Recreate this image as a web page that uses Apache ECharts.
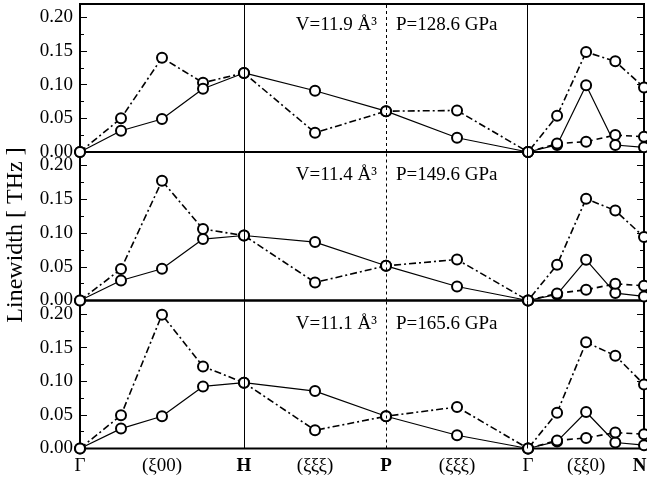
<!DOCTYPE html>
<html>
<head>
<meta charset="utf-8">
<script src="https://cdn.jsdelivr.net/npm/echarts@6/dist/echarts.min.js"></script>
<style>
  html, body { margin: 0; padding: 0; background: #fff; }
  #chart { width: 647px; height: 481px; }
</style>
</head>
<body>
<div id="chart"></div>
<script>
  // path coordinate: Γ-H = 1, H-P = P-Γ = √3/2, Γ-N = √2/2
  const pathX = [0, 0.25, 0.5, 0.75, 1, 1.433, 1.866, 2.299, 2.732, 2.909, 3.086, 3.264, 3.439]
  const gnX = [2.732, 2.909, 3.086, 3.264, 3.439]

  const xTickPos = [0, 0.5, 1, 1.433, 1.866, 2.299, 2.732, 3.086, 3.439]
  const xTickText = ['Γ', '(ξ00)', 'H', '(ξξξ)', 'P', '(ξξξ)', 'Γ', '(ξξ0)', 'N']
  const yTicks = [0, 0.05, 0.10, 0.15, 0.20]
  const yMinor = [0.025, 0.075, 0.125, 0.175]

  const volLabels = ['V=11.9 Å³', 'V=11.4 Å³', 'V=11.1 Å³']
  const presLabels = ['P=128.6 GPa', 'P=149.6 GPa', 'P=165.6 GPa']

  // V=11.9
  const dashDot1 = [0, 0.050, 0.140, 0.103, 0.1175, 0.0286, 0.0607, 0.0617, 0, 0.0538, 0.1486, 0.1348, 0.0958]
  const solid1 = [0, 0.0316, 0.049, 0.094, 0.1175, 0.091, 0.0607, 0.0212, 0, 0.0105, 0.0993, 0.0104, 0.007]
  const dashed1 = [0, 0.0125, 0.0153, 0.0252, 0.0227]
  // V=11.4
  const dashDot2 = [0, 0.0465, 0.1773, 0.1058, 0.0963, 0.0267, 0.0514, 0.0607, 0, 0.0529, 0.1507, 0.1333, 0.094]
  const solid2 = [0, 0.0296, 0.047, 0.091, 0.0963, 0.0865, 0.0514, 0.0207, 0, 0.009, 0.0603, 0.011, 0.006]
  const dashed2 = [0, 0.0105, 0.0159, 0.0247, 0.0218]
  // V=11.1
  const dashDot3 = [0, 0.0493, 0.199, 0.122, 0.0978, 0.0271, 0.0479, 0.0617, 0, 0.0533, 0.158, 0.138, 0.0953]
  const solid3 = [0, 0.0296, 0.0479, 0.0923, 0.0978, 0.0853, 0.0479, 0.0197, 0, 0.0105, 0.0542, 0.0089, 0.0049]
  const dashed3 = [0, 0.012, 0.0157, 0.0237, 0.0212]

  const panels = [
    [dashDot1, solid1, dashed1],
    [dashDot2, solid2, dashed2],
    [dashDot3, solid3, dashed3]
  ]

  const serif = '"Liberation Serif", "DejaVu Serif", serif'
  const gridTops = [4, 152, 300.5]
  const gridHeights = [148, 148.5, 148]
  const xMax = 3.439

  const zip = (xs, ys) => xs.map((x, i) => [x, ys[i]])

  const grids = []
  const xAxes = []
  const yAxes = []
  const series = []
  const graphics = []

  panels.forEach((p, g) => {
    grids.push({
      left: 80,
      right: 3,
      top: gridTops[g],
      height: gridHeights[g],
      outerBoundsMode: 'none',
      containLabel: false,
      show: true,
      borderColor: '#000',
      borderWidth: 2,
      backgroundColor: 'transparent'
    })

    const isBottom = g === panels.length - 1
    xAxes.push({
      type: 'value',
      gridIndex: g,
      min: 0,
      max: xMax,
      axisLine: { show: false },
      axisTick: { show: false },
      splitLine: { show: false },
      axisLabel: {
        show: isBottom,
        customValues: xTickPos,
        margin: 8,
        color: '#000',
        fontFamily: serif,
        fontSize: 19,
        formatter: function(v) {
          const i = xTickPos.findIndex(t => Math.abs(t - v) < 1e-6)
          const t = i >= 0 ? xTickText[i] : ''
          if (t === 'N') return '{n|' + t + '}'
          return (t === 'H' || t === 'P') ? '{b|' + t + '}' : t
        },
        rich: {
          b: { fontFamily: serif, fontSize: 19, fontWeight: 'bold', color: '#000' },
          n: { fontFamily: serif, fontSize: 19, fontWeight: 'bold', color: '#000', padding: [0, 9, 0, 0] }
        }
      }
    })

    // major / minor ticks on both sides
    const sides = [
      { position: 'left', values: yTicks, len: 7, label: true },
      { position: 'right', values: yTicks, len: 7, label: false },
      { position: 'left', values: yMinor, len: 4, label: false },
      { position: 'right', values: yMinor, len: 4, label: false }
    ]
    sides.forEach(s => {
      yAxes.push({
        type: 'value',
        gridIndex: g,
        position: s.position,
        offset: 0,
        min: 0,
        max: 0.22,
        axisLine: { show: false },
        splitLine: { show: false },
        axisTick: {
          show: true,
          inside: true,
          length: s.len,
          customValues: s.values,
          lineStyle: { color: '#000', width: 1 }
        },
        axisLabel: {
          show: s.label,
          customValues: s.values,
          margin: 7,
          color: '#000',
          fontFamily: serif,
          fontSize: 19,
          formatter: v => v.toFixed(2)
        }
      })
    })

    const yIdx = g * 4
    const common = {
      type: 'line',
      xAxisIndex: g,
      yAxisIndex: yIdx,
      symbol: 'emptyCircle',
      symbolSize: 10,
      clip: false,
      itemStyle: { color: '#000', borderWidth: 1.6 }
    }

    series.push(Object.assign({}, common, {
      name: 'dashdot' + g,
      data: zip(pathX, p[0]),
      lineStyle: { color: '#000', width: 1.6, type: [7, 3, 2, 3] },
      markLine: {
        silent: true,
        symbol: 'none',
        label: { show: false },
        lineStyle: { color: '#000', width: 1, type: 'solid' },
        data: [
          { xAxis: 1 },
          { xAxis: 1.866, lineStyle: { type: [3, 3] } },
          { xAxis: 2.732 }
        ]
      },
      z: 3
    }))
    series.push(Object.assign({}, common, {
      name: 'solid' + g,
      data: zip(pathX, p[1]),
      lineStyle: { color: '#000', width: 1.2, type: 'solid' },
      z: 3
    }))
    series.push(Object.assign({}, common, {
      name: 'dashed' + g,
      data: zip(gnX, p[2]),
      lineStyle: { color: '#000', width: 1.6, type: [6, 4] },
      z: 3
    }))

    const textY = gridTops[g] + [21, 23, 24][g]
    graphics.push({
      type: 'text',
      x: 377,
      y: textY,
      style: { text: volLabels[g], font: '19px ' + serif, fill: '#000', align: 'right', verticalAlign: 'middle' }
    })
    graphics.push({
      type: 'text',
      x: 396,
      y: textY,
      style: { text: presLabels[g], font: '19px ' + serif, fill: '#000', align: 'left', verticalAlign: 'middle' }
    })
  })

  graphics.push({
    type: 'text',
    x: 16,
    y: 235,
    rotation: Math.PI / 2,
    style: { text: 'Linewidth [ THz ]', font: '24px ' + serif, fill: '#000', align: 'center', verticalAlign: 'middle' }
  })

  const chart = echarts.init(document.getElementById('chart'))
  chart.setOption({
    animation: false,
    backgroundColor: '#fff',
    grid: grids,
    xAxis: xAxes,
    yAxis: yAxes,
    series: series,
    graphic: graphics
  })
</script>
</body>
</html>
